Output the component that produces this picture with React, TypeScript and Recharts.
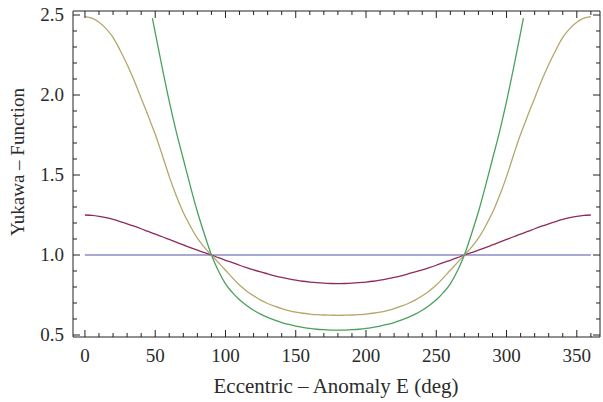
import React from 'react';
import { LineChart, Line, XAxis, YAxis, Label } from 'recharts';

// eccentric anomaly E (deg), sampled every 5 deg plus the points where the green curve enters/leaves the frame
const anomaly = [
  0, 5, 10, 15, 20, 25, 30, 35, 40, 45, 48, 50, 55, 60, 65, 70, 75, 80, 85, 90,
  95, 100, 105, 110, 115, 120, 125, 130, 135, 140, 145, 150, 155, 160, 165, 170, 175, 180,
  185, 190, 195, 200, 205, 210, 215, 220, 225, 230, 235, 240, 245, 250, 255, 260, 265, 270,
  275, 280, 285, 290, 295, 300, 305, 310, 312, 315, 320, 325, 330, 335, 340, 345, 350, 355, 360,
];

const blueValues = anomaly.map(() => 1.0);

const purpleValues = [
  1.25, 1.248, 1.242, 1.233, 1.222, 1.209, 1.195, 1.18, 1.164, 1.147, 1.137, 1.13, 1.114, 1.097, 1.08, 1.063, 1.046, 1.03, 1.015, 1.0,
  0.983, 0.967, 0.952, 0.936, 0.921, 0.907, 0.894, 0.882, 0.87, 0.86, 0.851, 0.843, 0.836, 0.831, 0.827, 0.824, 0.822, 0.821,
  0.822, 0.824, 0.827, 0.831, 0.836, 0.843, 0.851, 0.86, 0.87, 0.882, 0.894, 0.907, 0.921, 0.936, 0.952, 0.967, 0.983, 1.0,
  1.015, 1.03, 1.046, 1.063, 1.08, 1.097, 1.114, 1.13, 1.137, 1.147, 1.164, 1.18, 1.195, 1.209, 1.222, 1.233, 1.242, 1.248, 1.25,
];

const yellowValues = [
  2.49, 2.48, 2.455, 2.415, 2.36, 2.28, 2.19, 2.09, 1.98, 1.87, 1.8, 1.755, 1.625, 1.49, 1.37, 1.265, 1.18, 1.105, 1.048, 1.0,
  0.952, 0.905, 0.857, 0.812, 0.775, 0.745, 0.718, 0.697, 0.68, 0.665, 0.653, 0.643, 0.636, 0.631, 0.627, 0.625, 0.624, 0.623,
  0.624, 0.625, 0.627, 0.631, 0.636, 0.643, 0.653, 0.665, 0.68, 0.697, 0.718, 0.745, 0.775, 0.812, 0.857, 0.905, 0.952, 1.0,
  1.048, 1.105, 1.18, 1.265, 1.37, 1.49, 1.625, 1.755, 1.8, 1.87, 1.98, 2.09, 2.19, 2.28, 2.36, 2.415, 2.455, 2.48, 2.49,
];

const greenValues = [
  null, null, null, null, null, null, null, null, null, null, 2.48, 2.39, 2.17, 1.96, 1.77, 1.6, 1.43, 1.27, 1.13, 1.0,
  0.9, 0.82, 0.765, 0.72, 0.685, 0.655, 0.63, 0.61, 0.593, 0.578, 0.566, 0.556, 0.548, 0.541, 0.536, 0.533, 0.531, 0.53,
  0.531, 0.533, 0.536, 0.541, 0.548, 0.556, 0.566, 0.578, 0.593, 0.61, 0.63, 0.655, 0.685, 0.72, 0.765, 0.82, 0.9, 1.0,
  1.13, 1.27, 1.43, 1.6, 1.77, 1.96, 2.17, 2.39, 2.48, null, null, null, null, null, null, null, null, null, null,
];

const xTicks = [
  0, 10, 20, 30, 40, 50, 60, 70, 80, 90, 100, 110, 120, 130, 140, 150, 160, 170, 180,
  190, 200, 210, 220, 230, 240, 250, 260, 270, 280, 290, 300, 310, 320, 330, 340, 350, 360,
];
const yTicks = [0.5, 0.6, 0.7, 0.8, 0.9, 1.0, 1.1, 1.2, 1.3, 1.4, 1.5, 1.6, 1.7, 1.8, 1.9, 2.0, 2.1, 2.2, 2.3, 2.4, 2.5];

const data = anomaly.map((e, i) => ({
  e,
  blue: blueValues[i],
  purple: purpleValues[i],
  yellow: yellowValues[i],
  green: greenValues[i],
}));

const FONT = '"Liberation Serif", "DejaVu Serif", serif';
const TEXT = '#2b2b2b';
const FRAME = '#222';

const isMajorX = (v: number) => v % 50 === 0;
const isMajorY = (v: number) => Math.abs(v * 2 - Math.round(v * 2)) < 1e-6;

const BottomTick = ({ x, y, payload }: any) => {
  const major = isMajorX(payload.value);
  return (
    <g>
      <line x1={x} x2={x} y1={y} y2={y - (major ? 7 : 4)} stroke={FRAME} strokeWidth={1} />
      {major && (
        <text x={x} y={y + 25} textAnchor="middle" fontFamily={FONT} fontSize={19} fill={TEXT}>
          {payload.value}
        </text>
      )}
    </g>
  );
};

const TopTick = ({ x, y, payload }: any) => {
  const major = isMajorX(payload.value);
  return <line x1={x} x2={x} y1={y} y2={y + (major ? 7 : 4)} stroke={FRAME} strokeWidth={1} />;
};

const LeftTick = ({ x, y, payload }: any) => {
  const major = isMajorY(payload.value);
  return (
    <g>
      <line x1={x} x2={x + (major ? 7 : 4)} y1={y} y2={y} stroke={FRAME} strokeWidth={1} />
      {major && (
        <text x={x - 9} y={y + 6} textAnchor="end" fontFamily={FONT} fontSize={19} fill={TEXT}>
          {payload.value.toFixed(1)}
        </text>
      )}
    </g>
  );
};

const RightTick = ({ x, y, payload }: any) => {
  const major = isMajorY(payload.value);
  return <line x1={x} x2={x - (major ? 7 : 4)} y1={y} y2={y} stroke={FRAME} strokeWidth={1} />;
};

export default function App() {
  return (
    <div style={{ position: 'absolute', left: 0, top: 0, width: 603, height: 402, background: '#fff' }}>
      <LineChart width={603} height={402} data={data} margin={{ top: 10, right: 2, bottom: 0, left: 0 }}>
        <XAxis
          xAxisId="bottom"
          dataKey="e"
          type="number"
          domain={[-8.5, 366.5]}
          allowDataOverflow
          ticks={xTicks}
          interval={0}
          tickSize={0}
          tickMargin={0}
          tickLine={false}
          tick={<BottomTick />}
          height={65}
          axisLine={{ stroke: FRAME }}
        >
          <Label
            content={() => (
              <text x={336} y={393} textAnchor="middle" fontFamily={FONT} fontSize={21} fill={TEXT}>
                Eccentric – Anomaly E (deg)
              </text>
            )}
          />
        </XAxis>
        <XAxis
          xAxisId="top"
          orientation="top"
          dataKey="e"
          type="number"
          domain={[-8.5, 366.5]}
          allowDataOverflow
          ticks={xTicks}
          interval={0}
          tickSize={0}
          tickMargin={0}
          tickLine={false}
          tick={<TopTick />}
          height={1}
          axisLine={{ stroke: FRAME }}
        />
        <YAxis
          yAxisId="left"
          type="number"
          domain={[0.4875, 2.525]}
          allowDataOverflow
          ticks={yTicks}
          interval={0}
          tickSize={0}
          tickMargin={0}
          tickLine={false}
          tick={<LeftTick />}
          width={73}
          axisLine={{ stroke: FRAME }}
        >
          <Label
            content={() => (
              <text
                x={17}
                y={162}
                transform="rotate(-90 17 162)"
                textAnchor="middle"
                dominantBaseline="central"
                fontFamily={FONT}
                fontSize={19}
                fill={TEXT}
              >
                Yukawa – Function
              </text>
            )}
          />
        </YAxis>
        <YAxis
          yAxisId="right"
          orientation="right"
          type="number"
          domain={[0.4875, 2.525]}
          allowDataOverflow
          ticks={yTicks}
          interval={0}
          tickSize={0}
          tickMargin={0}
          tickLine={false}
          tick={<RightTick />}
          width={1}
          axisLine={{ stroke: FRAME }}
        />
        <Line xAxisId="bottom" yAxisId="left" type="monotone" dataKey="blue" stroke="#8c8cc8" strokeWidth={1.3} dot={false} isAnimationActive={false} />
        <Line xAxisId="bottom" yAxisId="left" type="monotone" dataKey="purple" stroke="#8e2a5e" strokeWidth={1.3} dot={false} isAnimationActive={false} />
        <Line xAxisId="bottom" yAxisId="left" type="monotone" dataKey="yellow" stroke="#b5a66a" strokeWidth={1.3} dot={false} isAnimationActive={false} />
        <Line xAxisId="bottom" yAxisId="left" type="monotone" dataKey="green" stroke="#4aa060" strokeWidth={1.3} dot={false} isAnimationActive={false} />
      </LineChart>
    </div>
  );
}
